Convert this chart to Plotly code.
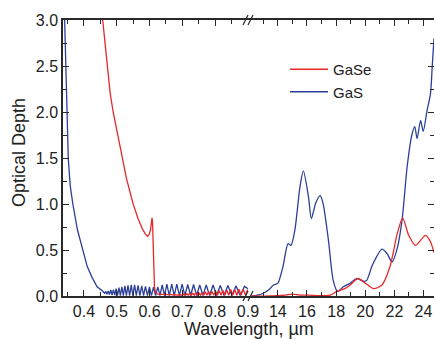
import plotly.graph_objects as go

# ---------------- data ----------------
# Left segment: visible range, wavelength in micrometres
gas_left_wl = [0.341, 0.344, 0.347, 0.352, 0.358, 0.366, 0.380, 0.396, 0.410, 0.425, 0.440, 0.455,
               0.4627, 0.4664, 0.4701, 0.4739, 0.4778, 0.4817, 0.4857, 0.4897, 0.4938, 0.4980,
               0.5023, 0.5066, 0.5110, 0.5155, 0.5200, 0.5247, 0.5294, 0.5342, 0.5391, 0.5441,
               0.5491, 0.5543, 0.5596, 0.5650, 0.5705, 0.5760, 0.5817, 0.5875, 0.5935, 0.5995,
               0.6057, 0.6120, 0.6184, 0.6250, 0.6317, 0.6386, 0.6456, 0.6527, 0.6601, 0.6676,
               0.6752, 0.6831, 0.6911, 0.6993, 0.7077, 0.7163, 0.7252, 0.7342, 0.7435, 0.7530,
               0.7628, 0.7728, 0.7831, 0.7937, 0.8045, 0.8157, 0.8271, 0.8389, 0.8511, 0.8636,
               0.8764, 0.8897, 0.9000]
gas_left_od = [3.0, 2.5, 2.0, 1.5, 1.2, 1.0, 0.72, 0.5, 0.32, 0.2, 0.1, 0.06,
               0.03, 0.05, 0.02, 0.055, 0.015, 0.065, 0.01, 0.07, 0.01, 0.08,
               0.005, 0.09, 0.005, 0.10, 0.005, 0.11, 0.005, 0.115, 0.005, 0.12,
               0.005, 0.12, 0.005, 0.115, 0.005, 0.11, 0.005, 0.105, 0.005, 0.10,
               0.005, 0.095, 0.005, 0.10, 0.005, 0.12, 0.005, 0.13, 0.005, 0.13,
               0.005, 0.13, 0.005, 0.13, 0.005, 0.125, 0.005, 0.125, 0.005, 0.12,
               0.005, 0.12, 0.005, 0.12, 0.005, 0.115, 0.005, 0.115, 0.005, 0.11,
               0.005, 0.105, 0.08]

gase_left_wl = [0.457, 0.462, 0.470, 0.480, 0.489, 0.500, 0.516, 0.530, 0.550, 0.565, 0.578,
                0.588, 0.594, 0.599, 0.603, 0.606, 0.6075, 0.609, 0.611, 0.613, 0.615, 0.618,
                0.625, 0.660, 0.6970,
                0.7010, 0.7052, 0.7095, 0.7138, 0.7181, 0.7225, 0.7270, 0.7315, 0.7361, 0.7407,
                0.7454, 0.7502, 0.7550, 0.7599, 0.7648, 0.7698, 0.7749, 0.7800, 0.7852, 0.7905,
                0.7959, 0.8013, 0.8068, 0.8124, 0.8180, 0.8237, 0.8295, 0.8354, 0.8414, 0.8475,
                0.8536, 0.8598, 0.8662, 0.8726, 0.8791, 0.8857, 0.8925, 0.8993]
gase_left_od = [3.0, 2.82, 2.5, 2.2, 2.0, 1.8, 1.5, 1.27, 1.0, 0.84, 0.73,
                0.67, 0.65, 0.67, 0.72, 0.80, 0.85, 0.80, 0.55, 0.30, 0.10, 0.04,
                0.02, 0.015, 0.015,
                0.008, 0.025, 0.008, 0.025, 0.008, 0.03, 0.008, 0.03, 0.008, 0.035,
                0.008, 0.035, 0.008, 0.04, 0.008, 0.045, 0.008, 0.05, 0.008, 0.05,
                0.008, 0.055, 0.008, 0.06, 0.008, 0.06, 0.008, 0.065, 0.008, 0.07,
                0.008, 0.07, 0.008, 0.075, 0.008, 0.075, 0.008, 0.07]

# Right segment: infrared range
gas_right_wl = [12.2, 12.6, 13.0, 13.4, 13.7, 14.0, 14.35, 14.7, 14.9, 15.17, 15.52, 15.75,
                16.1, 16.3, 16.6, 16.9, 17.1, 17.47, 17.8, 18.1, 18.5, 18.97, 19.4, 19.9,
                20.1, 20.5, 21.15, 21.5, 21.84, 22.2, 22.53, 22.88, 23.2, 23.4, 23.56, 23.8,
                23.98, 24.25, 24.48, 24.6, 24.72]
gas_right_od = [0.0, 0.01, 0.03, 0.07, 0.12, 0.14, 0.32, 0.57, 0.55, 0.72, 1.19, 1.36,
                1.08, 0.84, 1.01, 1.09, 1.01, 0.61, 0.17, 0.05, 0.10, 0.14, 0.19, 0.16,
                0.17, 0.34, 0.51, 0.46, 0.37, 0.52, 0.83, 1.41, 1.75, 1.84, 1.71, 1.91,
                1.79, 2.02, 2.20, 2.50, 2.80]

gase_right_wl = [12.2, 13.5, 14.5, 15.0, 15.5, 16.0, 17.0, 17.6, 18.05, 18.6, 18.97, 19.5,
                 20.0, 20.57, 21.15, 21.7, 22.2, 22.57, 22.98, 23.45, 24.14, 24.48, 24.72]
gase_right_od = [0.0, 0.0, 0.01, 0.02, 0.01, 0.01, 0.005, 0.01, 0.05, 0.08, 0.12, 0.19,
                 0.14, 0.08, 0.12, 0.32, 0.68, 0.85, 0.66, 0.55, 0.66, 0.59, 0.47]

left_ticks = [0.4, 0.5, 0.6, 0.7, 0.8, 0.9]
right_ticks = [14, 16, 18, 20, 22, 24]
y_ticks = [0.0, 0.5, 1.0, 1.5, 2.0, 2.5, 3.0]

# ---------------- styling ----------------
RED = "#e8282b"
BLUE = "#2b3f98"
AX = "#2a2a2a"
FONT = "Liberation Sans, Arial, sans-serif"
W, H = 435, 340
ML, MR, MT, MB = 63, 1, 20, 44
split_px = 248
pw = W - ML - MR
ph = H - MT - MB
dom = (split_px - ML) / pw

fig = go.Figure()
fig.add_trace(go.Scatter(x=gas_left_wl, y=gas_left_od, mode="lines", name="GaS",
                         line=dict(color=BLUE, width=1.3), xaxis="x", yaxis="y",
                         showlegend=False))
fig.add_trace(go.Scatter(x=gase_left_wl, y=gase_left_od, mode="lines", name="GaSe",
                         line=dict(color=RED, width=1.3), xaxis="x", yaxis="y",
                         showlegend=False))
fig.add_trace(go.Scatter(x=gas_right_wl, y=gas_right_od, mode="lines", name="GaS",
                         line=dict(color=BLUE, width=1.3, shape="spline", smoothing=0.7),
                         xaxis="x2", yaxis="y2", legendrank=2))
fig.add_trace(go.Scatter(x=gase_right_wl, y=gase_right_od, mode="lines", name="GaSe",
                         line=dict(color=RED, width=1.3, shape="spline", smoothing=0.7),
                         xaxis="x2", yaxis="y2", legendrank=1))

tickfont = dict(family=FONT, size=16, color="#222")
common_x = dict(showline=True, linecolor=AX, linewidth=1.5, mirror="ticks", ticks="inside",
                ticklen=6, tickwidth=1.2, tickcolor=AX, showgrid=False, zeroline=False,
                tickfont=tickfont, automargin=False)

fig.update_layout(
    width=W, height=H, margin=dict(l=ML, r=MR, t=MT, b=MB, autoexpand=False),
    paper_bgcolor="white", plot_bgcolor="white",
    xaxis=dict(domain=[0, dom], range=[0.336, 0.9002], tickvals=left_ticks,
               ticktext=[f"{v:.1f}" for v in left_ticks],
               minor=dict(dtick=0.05, tick0=0.0, ticks="inside", ticklen=4, tickcolor=AX),
               anchor="y", **common_x),
    xaxis2=dict(domain=[dom, 1], range=[11.95, 24.72], tickvals=right_ticks,
                minor=dict(dtick=1, tick0=0, ticks="inside", ticklen=4, tickcolor=AX),
                anchor="y2", **common_x),
    yaxis=dict(range=[0, 3.0], tickvals=y_ticks, ticktext=[f"{v:.1f}" for v in y_ticks],
               showline=True, linecolor=AX, linewidth=1.5, ticks="inside", ticklen=6,
               tickwidth=1.2, tickcolor=AX, showgrid=False, zeroline=False, anchor="x",
               minor=dict(dtick=0.25, tick0=0, ticks="inside", ticklen=4, tickcolor=AX),
               tickfont=tickfont, automargin=False),
    yaxis2=dict(range=[0, 3.0], tickvals=y_ticks, side="right", anchor="x2",
                showline=False, ticks="inside", ticklen=6, tickwidth=1.2, tickcolor=AX,
                showticklabels=False, showgrid=False, zeroline=False, automargin=False,
                minor=dict(dtick=0.25, tick0=0, ticks="inside", ticklen=4, tickcolor=AX)),
    legend=dict(x=(285 - ML) / pw, y=1 - (53 - MT) / ph,
                xanchor="left", yanchor="top", bgcolor="rgba(0,0,0,0)",
                font=dict(family=FONT, size=15, color="#222"), tracegroupgap=0,
                itemwidth=38),
    showlegend=True,
)

# axis titles
fig.add_annotation(text="Wavelength, \u00b5m", xref="paper", yref="paper", x=0.5,
                   y=-(329 - (H - MB)) / ph, yanchor="middle", showarrow=False,
                   font=dict(family=FONT, size=18, color="#222"))
fig.add_annotation(text="Optical Depth", xref="paper", yref="paper", x=-(ML - 19) / pw,
                   y=0.5 - (153 - (MT + ph / 2)) / ph, textangle=-90, xanchor="center",
                   yanchor="middle", showarrow=False,
                   font=dict(family=FONT, size=18, color="#222"))

# axis-break marks "//" on the top and bottom axes
for yb in (0.0, 1.0):
    for off in (-2.5, 2.5):
        fig.add_shape(type="line", xref="paper", yref="paper",
                      x0=dom + (off - 2.5) / pw, x1=dom + (off + 2.5) / pw,
                      y0=yb - 5 / ph, y1=yb + 5 / ph,
                      line=dict(color=AX, width=1.3))

fig.write_html("out.html", config={"displayModeBar": False},
               post_script="document.body.style.margin='0';document.body.style.padding='0';")
